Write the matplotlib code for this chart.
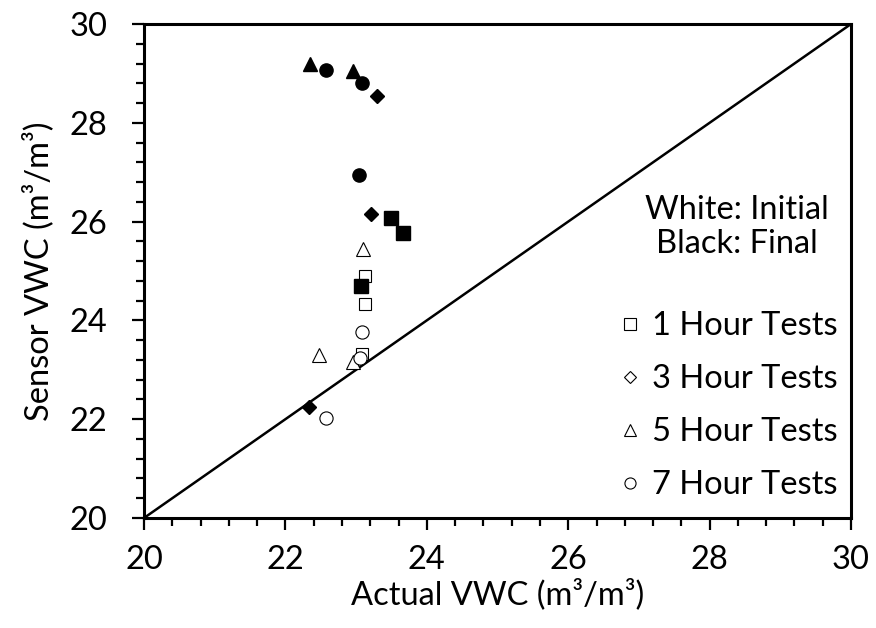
import numpy as np
import matplotlib
matplotlib.use("Agg")
import matplotlib.pyplot as plt
from matplotlib.lines import Line2D
from matplotlib.ticker import MultipleLocator

plt.rcParams['font.family'] = ['Lato', 'DejaVu Sans']

# Data (actual VWC, sensor VWC)
# White = initial readings, black = final readings
one_hr_init_x = [23.12, 23.13, 23.09]
one_hr_init_y = [24.90, 24.33, 23.31]
one_hr_final_x = [23.49, 23.67, 23.07]
one_hr_final_y = [26.08, 25.76, 24.70]

three_hr_final_x = [23.21, 23.30, 22.34]
three_hr_final_y = [26.15, 28.55, 22.25]

five_hr_init_x = [23.10, 22.47, 22.96]
five_hr_init_y = [25.44, 23.29, 23.16]
five_hr_final_x = [22.35, 22.96]
five_hr_final_y = [29.20, 29.05]

seven_hr_init_x = [23.08, 23.05, 22.58]
seven_hr_init_y = [23.76, 23.23, 22.03]
seven_hr_final_x = [23.04, 22.58, 23.08]
seven_hr_final_y = [26.94, 29.07, 28.80]

legend_labels = ["1 Hour Tests", "3 Hour Tests", "5 Hour Tests", "7 Hour Tests"]
legend_markers = ["s", "D", "^", "o"]

fig = plt.figure(figsize=(8.76, 6.28), dpi=100)
ax = fig.add_axes([0.1644, 0.1752, 0.8071, 0.7866])

# 1:1 line
ax.plot([20, 30], [20, 30], color="black", lw=1.8, zorder=1)

open_kw = dict(linestyle="none", mfc="white", mec="black", mew=0.8, zorder=3)
fill_kw = dict(linestyle="none", mfc="black", mec="black", zorder=4)

ax.plot(one_hr_init_x, one_hr_init_y, marker="s", ms=9, **open_kw)
ax.plot(five_hr_init_x, five_hr_init_y, marker="^", ms=9.5, **open_kw)
ax.plot(seven_hr_init_x, seven_hr_init_y, marker="o", ms=9.5, **open_kw)

ax.plot(one_hr_final_x, one_hr_final_y, marker="s", ms=9.5, **fill_kw)
ax.plot(three_hr_final_x, three_hr_final_y, marker="D", ms=7, **fill_kw)
ax.plot(five_hr_final_x, five_hr_final_y, marker="^", ms=9.5, **fill_kw)
ax.plot(seven_hr_final_x, seven_hr_final_y, marker="o", ms=9.5, **fill_kw)

ax.set_xlim(20, 30)
ax.set_ylim(20, 30)
ax.xaxis.set_major_locator(MultipleLocator(2))
ax.yaxis.set_major_locator(MultipleLocator(2))
ax.xaxis.set_minor_locator(MultipleLocator(0.4))
ax.yaxis.set_minor_locator(MultipleLocator(0.4))
ax.tick_params(which="major", direction="out", length=8.6, width=1.6, labelsize=23.5)
ax.tick_params(which="minor", direction="out", length=5.8, width=1.6)
ax.tick_params(axis="x", which="major", pad=11)
ax.tick_params(axis="y", which="major", pad=18)

for s in ax.spines.values():
    s.set_linewidth(2.2)

ax.set_xlabel("Actual VWC (m³/m³)", fontsize=23.5, labelpad=2)
ax.set_ylabel("Sensor VWC (m³/m³)", fontsize=23.5, labelpad=11)

# legend note
ax.text(0.838, 0.589, "White: Initial\nBlack: Final", transform=ax.transAxes,
        ha="center", va="center", fontsize=23.5, linespacing=1.2)

handles = [Line2D([], [], linestyle="none", marker=m, mfc="white", mec="black",
                  mew=0.8, ms=(6 if m == "D" else 8)) for m in legend_markers]
leg = ax.legend(handles, legend_labels, loc="lower right", bbox_to_anchor=(1.0, 0.01),
                frameon=False, fontsize=23.5, handlelength=0.6, handletextpad=0.4,
                labelspacing=0.7, borderaxespad=0.0)

fig.savefig("out.png", dpi=100)
